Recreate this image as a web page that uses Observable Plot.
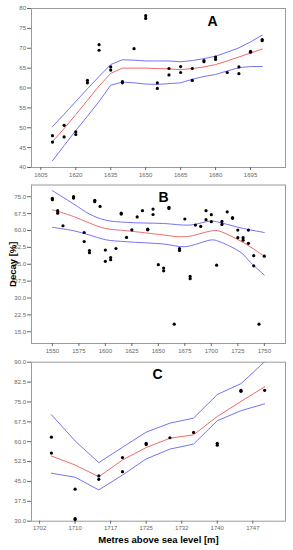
<!DOCTYPE html>
<html><head><meta charset="utf-8">
<script src="https://cdn.jsdelivr.net/npm/d3@7"></script>
<script src="https://cdn.jsdelivr.net/npm/@observablehq/plot@0.6"></script>
<style>
body{margin:0;background:#fff;}
#chart{width:293px;}
#chart svg{display:block;}
</style></head><body><div id="chart"></div>
<script>
// ---------- Panel A ----------
const pointYearA = [1610,1610,1615,1615,1620,1620,1625,1625,1630,1630,1635,1635,1640,1640,1645,1650,1650,1655,1655,1660,1660,1665,1665,1670,1670,1675,1675,1680,1680,1685,1690,1690,1695,1695,1700,1700];
const pointDecayA = [48.0,46.4,50.6,47.7,49.0,48.3,61.9,61.3,70.9,69.5,65.3,64.5,61.6,61.3,69.9,78.2,77.5,61.3,59.9,64.9,63.3,65.4,63.9,64.9,61.9,66.9,66.6,67.8,67.2,63.9,65.3,63.6,69.2,69.0,72.2,71.9];
const fitYearA = [1610,1615,1620,1625,1630,1635,1640,1645,1650,1655,1660,1665,1670,1675,1680,1685,1690,1695,1700];
const fitA   = [46.5,49.8,53.3,56.9,60.5,63.7,65.0,65.0,65.0,64.9,64.8,64.6,64.9,65.3,65.9,66.8,67.8,68.8,69.8];
const upperA = [50.3,53.4,56.6,59.8,62.9,65.9,67.1,67.0,66.8,66.8,66.8,66.6,66.9,67.4,68.0,69.0,70.1,71.6,73.3];
const lowerA = [41.7,45.5,49.3,52.9,56.6,60.7,61.5,61.3,61.0,60.9,61.1,61.3,62.2,62.9,63.4,64.3,65.1,65.4,65.4];
const xTicksA = [1605,1620,1635,1650,1665,1680,1695];
const yTicksA = [40,45,50,55,60,65,70,75,80];

// ---------- Panel B ----------
const pointYearB = [1550,1550,1555,1555,1560,1570,1570,1580,1580,1585,1585,1590,1590,1595,1600,1600,1605,1605,1610,1615,1615,1620,1625,1630,1635,1640,1640,1645,1645,1650,1655,1655,1660,1660,1665,1670,1670,1675,1680,1680,1685,1690,1695,1695,1700,1700,1705,1710,1710,1715,1720,1720,1725,1725,1730,1730,1735,1735,1740,1740,1745,1750];
const pointDecayB = [74.3,73.7,68.8,67.7,62.1,75.0,74.4,59.1,55.1,51.1,50.1,73.4,72.8,70.7,51.3,46.3,48.0,47.0,52.0,67.7,67.3,56.9,60.3,66.0,68.8,60.6,60.3,69.5,67.1,44.8,43.3,42.1,70.3,69.8,18.4,52.0,51.1,65.1,39.6,38.6,62.4,61.8,68.8,64.8,67.0,63.9,44.6,64.0,62.7,68.3,65.7,65.4,60.2,56.8,56.8,55.7,60.2,54.3,48.8,44.3,18.4,48.6];
const upperYearB = [1550,1570,1585,1600,1620,1655,1680,1700,1710,1730,1750];
const upperB     = [77.7,71.8,67.3,64.6,63.6,63.1,62.4,64.2,63.3,60.9,59.1];
const fitYearB   = [1550,1570,1585,1600,1620,1655,1670,1680,1700,1706,1730,1750];
const fitB       = [69.2,66.2,63.3,60.9,59.9,58.0,57.2,57.5,59.8,59.9,54.7,48.5];
const lowerYearB = [1550,1570,1585,1600,1620,1655,1675,1700,1705,1728,1737,1750];
const lowerB     = [61.4,59.9,58.0,55.9,55.0,54.0,52.8,55.8,55.5,50.2,45.8,40.2];
const xTicksB = [1550,1575,1600,1625,1650,1675,1700,1725,1750];
const yTicksB = [15,22.5,30,37.5,45,52.5,60,67.5,75];

// ---------- Panel C ----------
const pointYearC = [1705,1705,1710,1710,1710,1715,1715,1720,1720,1725,1725,1730,1735,1740,1740,1745,1745,1750];
const pointDecayC = [61.7,55.7,42.1,31.0,30.6,47.1,45.8,54.0,48.7,59.4,58.9,61.5,63.5,59.4,58.7,79.4,79.0,79.4];
const fitYearC = [1705,1710,1715,1720,1725,1730,1735,1740,1745,1750];
const fitC   = [54.6,51.2,46.8,53.1,57.8,61.3,62.6,69.5,75.2,80.7];
const upperC = [70.2,60.3,52.1,57.9,63.6,67.0,68.9,77.8,81.9,90.2];
const lowerC = [48.1,46.6,41.8,47.4,53.5,57.2,59.1,67.9,71.7,74.3];
const xTicksC = [1702.5,1710,1717.5,1725,1732.5,1740,1747.5];
const xTickLabelsC = ["1702","1710","1717","1725","1732","1740","1747"];
const yTicksC = [30,37.5,45,52.5,60,67.5,75,82.5,90];

const BLUE = "#7474f4", RED = "#f06a6a", FONT = "'Liberation Sans', Arial, sans-serif";

function zip(xs, ys){ return xs.map((x,i)=>({x, y: ys[i]})); }

function panel(o){
  const marks = [
    Plot.frame({stroke:"#9a9a9a"}),
    Plot.axisY({ticks:o.yTicks, tickSize:4, tickPadding:1.5, fontSize:6, color:"#666", tickFormat:o.yFormat, label:null}),
    Plot.axisX({ticks:o.xTicks, tickSize:3, tickPadding:2, fontSize:6, color:"#666", tickFormat:o.xFormat, label:null}),
    Plot.line(zip(o.upX, o.up), {x:"x", y:"y", stroke:BLUE, strokeWidth:1, curve:o.curve, clip:true}),
    Plot.line(zip(o.loX, o.lo), {x:"x", y:"y", stroke:BLUE, strokeWidth:1, curve:o.curve, clip:true}),
    Plot.line(zip(o.fitX, o.fit), {x:"x", y:"y", stroke:RED, strokeWidth:1, curve:o.curve, clip:true}),
    Plot.dot(zip(o.px, o.py), {x:"x", y:"y", r:1.6, fill:"black", stroke:null}),
    Plot.text([o.letter], {frameAnchor:"top-left", dx:o.ldx, dy:o.ldy, text:d=>d, fontSize:14, fontWeight:"bold", fill:"black", textAnchor:"middle", lineAnchor:"middle"})
  ];
  if (o.ylabel) marks.push(Plot.text([o.ylabel], {frameAnchor:"left", dx:-19, rotate:-90, text:d=>d, fontSize:9.5, fontWeight:"bold", fill:"black", textAnchor:"middle", lineAnchor:"middle"}));
  if (o.xlabel) marks.push(Plot.text([o.xlabel], {frameAnchor:"bottom", dy:18.5, text:d=>d, fontSize:9.5, fontWeight:"bold", fill:"black", textAnchor:"middle", lineAnchor:"middle"}));
  return Plot.plot({
    width:293, height:o.height,
    marginLeft:31, marginRight:8, marginTop:o.mt, marginBottom:o.mb,
    style:{fontFamily:FONT, background:"white"},
    x:{domain:o.xDomain},
    y:{domain:o.yDomain},
    marks
  });
}

const chart = document.getElementById("chart");
chart.append(panel({
  height:177, mt:8, mb:10, xDomain:[1601,1710], yDomain:[40,80],
  xTicks:xTicksA, yTicks:yTicksA, xFormat:d=>String(d), yFormat:d=>String(d),
  px:pointYearA, py:pointDecayA, fitX:fitYearA, fit:fitA, upX:fitYearA, up:upperA, loX:fitYearA, lo:lowerA,
  curve:"linear", letter:"A", ldx:181, ldy:13
}));
chart.append(panel({
  height:177, mt:7.5, mb:11, xDomain:[1530.3,1770], yDomain:[9.8,80.2],
  xTicks:xTicksB, yTicks:yTicksB, xFormat:d=>String(d), yFormat:d=>d.toFixed(1),
  px:pointYearB, py:pointDecayB, fitX:fitYearB, fit:fitB, upX:upperYearB, up:upperB, loX:lowerYearB, lo:lowerB,
  curve:"catmull-rom", letter:"B", ldx:132, ldy:12.5, ylabel:"Decay [%]"
}));
chart.append(panel({
  height:196, mt:7.7, mb:29.3, xDomain:[1700.8,1754.4], yDomain:[30,90],
  xTicks:xTicksC, yTicks:yTicksC, xFormat:d=>xTickLabelsC[xTicksC.indexOf(d)], yFormat:d=>d.toFixed(1),
  px:pointYearC, py:pointDecayC, fitX:fitYearC, fit:fitC, upX:fitYearC, up:upperC, loX:fitYearC, lo:lowerC,
  curve:"linear", letter:"C", ldx:126, ldy:12.3, xlabel:"Metres above sea level [m]"
}));
</script></body></html>
